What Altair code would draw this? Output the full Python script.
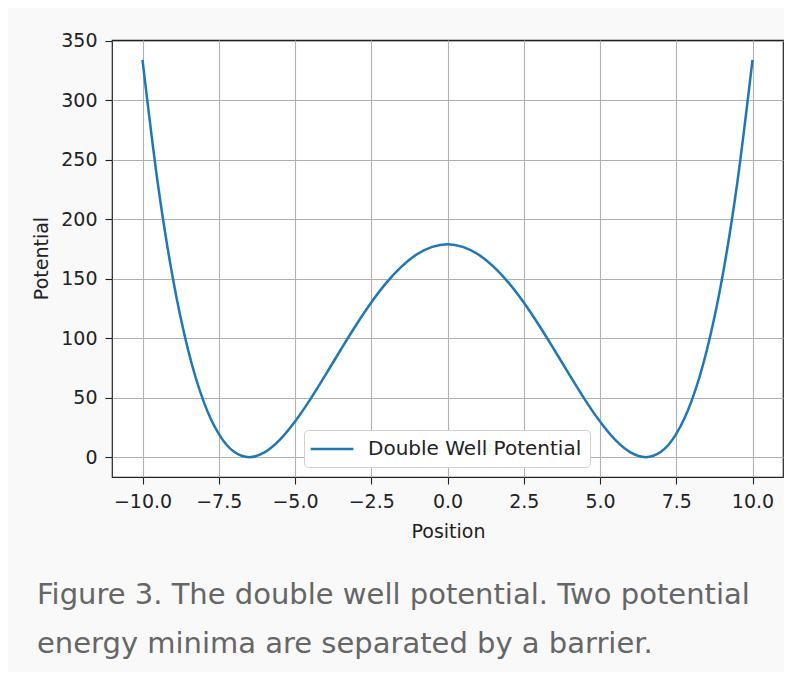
import altair as alt
import pandas as pd

positions = [-10.0, -9.5, -9.0, -8.5, -8.0, -7.5, -7.0, -6.5, -6.0, -5.5, -5.0,
             -4.5, -4.0, -3.5, -3.0, -2.5, -2.0, -1.5, -1.0, -0.5, 0.0,
             0.5, 1.0, 1.5, 2.0, 2.5, 3.0, 3.5, 4.0, 4.5, 5.0,
             5.5, 6.0, 6.5, 7.0, 7.5, 8.0, 8.5, 9.0, 9.5, 10.0]
potential = [334.0, 230.5, 149.8, 89.7, 47.1, 19.5, 4.5, 0.0, 4.0, 14.5, 29.9,
             48.6, 69.2, 90.3, 110.9, 130.0, 146.7, 160.4, 170.6, 176.8, 179.0,
             176.8, 170.6, 160.4, 146.7, 130.0, 110.9, 90.3, 69.2, 48.6, 29.9,
             14.5, 4.0, 0.0, 4.5, 19.5, 47.1, 89.7, 149.8, 230.5, 334.0]
series_names = ["Double Well Potential"]
x_ticks = [-10.0, -7.5, -5.0, -2.5, 0.0, 2.5, 5.0, 7.5, 10.0]
y_ticks = [0, 50, 100, 150, 200, 250, 300, 350]
caption = ["Figure 3. The double well potential. Two potential",
           "energy minima are separated by a barrier."]

df = pd.DataFrame({"Position": positions, "Potential": potential,
                   "Series": series_names[0]})

FONT = "DejaVu Sans"

chart = alt.Chart(df).mark_line(strokeWidth=2.5, interpolate="monotone").encode(
    x=alt.X("Position:Q",
            scale=alt.Scale(domain=[-11, 11], nice=False, zero=False),
            axis=alt.Axis(values=x_ticks, format=".1f", title="Position",
                          titleX=336, titleY=60, titleBaseline="alphabetic",
                          titleAlign="center", labelPadding=8)),
    y=alt.Y("Potential:Q",
            scale=alt.Scale(domain=[-16.7, 350.7], nice=False, zero=False),
            axis=alt.Axis(values=y_ticks, format="d", title="Potential",
                          titleX=-65, titleY=218, titleAngle=270,
                          titleBaseline="alphabetic", titleAlign="center",
                          labelPadding=8)),
    color=alt.Color("Series:N",
                    scale=alt.Scale(domain=series_names, range=["#1f77b4"]),
                    legend=alt.Legend(title=None, orient="none", legendX=192,
                                      legendY=390, symbolType="M-1.3,0H3.2",
                                      symbolSize=361, symbolStrokeWidth=2.5,
                                      labelOffset=34, fillColor="white",
                                      strokeColor="#d0d0d0", cornerRadius=4,
                                      padding=8, labelFontSize=20,
                                      labelLimit=400,
                                      labelFont=FONT, labelColor="#222222")),
).properties(
    width=671,
    height=437,
    autosize=alt.AutoSizeParams(type="none"),
    padding={"left": 104, "top": 32, "right": 1, "bottom": 195},
    background="#f9f9f9",
    title=alt.TitleParams(text=caption, orient="bottom", anchor="start",
                          frame="group", dx=-75, offset=40, fontSize=29,
                          font=FONT, fontWeight="normal", color="#666666",
                          lineHeight=49),
).configure_view(
    stroke="#222222", strokeWidth=1.2, fill="white"
).configure_axis(
    domain=False, grid=True, gridColor="#b0b0b0", gridWidth=1.1,
    tickColor="#222222", tickSize=7, tickWidth=1.1,
    labelFont=FONT, labelFontSize=19, labelColor="#222222",
    titleFont=FONT, titleFontSize=19, titleFontWeight="normal",
    titleColor="#222222"
)

chart.save("out.html", embed_options={"renderer": "svg", "actions": False})
